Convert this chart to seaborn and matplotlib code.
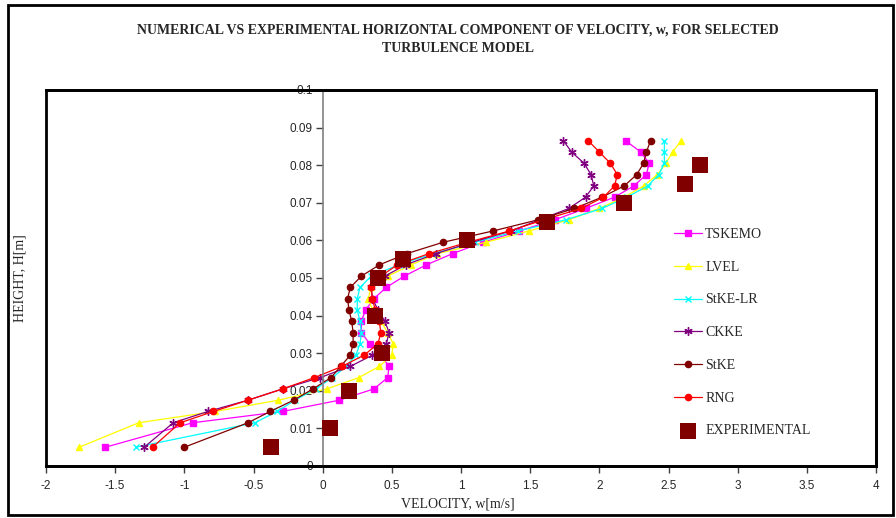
import matplotlib
matplotlib.use("Agg")
import matplotlib.pyplot as plt
import seaborn as sns
import numpy as np
from matplotlib.patches import Rectangle
from matplotlib.ticker import FixedLocator, FuncFormatter

# ---------------- data ----------------
HEIGHT = [0.005, 0.0115, 0.0145, 0.0175, 0.0205, 0.0235, 0.0265, 0.0295, 0.0325,
          0.0355, 0.0385, 0.0415, 0.0445, 0.0475, 0.0505, 0.0535, 0.0565, 0.0595,
          0.0625, 0.0655, 0.0685, 0.0715, 0.0745, 0.0775, 0.0805, 0.0835, 0.0865]

TSKEMO = [-1.57, -0.94, -0.29, 0.12, 0.37, 0.47, 0.48, 0.42, 0.34, 0.28, 0.28, 0.31, 0.37,
          0.46, 0.59, 0.75, 0.94, 1.16, 1.42, 1.68, 1.90, 2.11, 2.25, 2.34, 2.36, 2.30, 2.19]
LVEL = [-1.76, -1.33, -0.78, -0.32, 0.03, 0.26, 0.41, 0.50, 0.51, 0.47, 0.42, 0.36, 0.33,
        0.35, 0.47, 0.64, 0.83, 1.18, 1.49, 1.78, 2.00, 2.18, 2.32, 2.42, 2.48, 2.53, 2.59]
STKE_LR = [-1.35, -0.49, -0.33, -0.20, -0.05, 0.07, 0.17, 0.24, 0.27, 0.28, 0.27, 0.25, 0.25,
           0.27, 0.35, 0.55, 0.80, 1.10, 1.41, 1.76, 2.02, 2.20, 2.35, 2.43, 2.47, 2.47, 2.47]
CKKE = [-1.29, -1.08, -0.83, -0.54, -0.29, -0.02, 0.20, 0.36, 0.46, 0.48, 0.45, 0.40, 0.36,
        0.35, 0.45, 0.60, 0.82, 1.08, 1.36, 1.57, 1.78, 1.90, 1.96, 1.94, 1.89, 1.80, 1.74]
STKE = [-1.00, -0.54, -0.38, -0.21, -0.07, 0.06, 0.13, 0.20, 0.22, 0.22, 0.21, 0.19, 0.18,
        0.20, 0.28, 0.41, 0.61, 0.87, 1.23, 1.56, 1.82, 2.02, 2.18, 2.27, 2.32, 2.34, 2.37]
RNG = [-1.23, -1.03, -0.79, -0.54, -0.29, -0.06, 0.14, 0.30, 0.40, 0.42, 0.41, 0.38, 0.36,
       0.35, 0.42, 0.54, 0.77, 1.05, 1.35, 1.60, 1.87, 2.03, 2.11, 2.13, 2.08, 2.00, 1.92]

EXP_V = [-0.37, 0.05, 0.19, 0.43, 0.38, 0.40, 0.58, 1.04, 1.62, 2.18, 2.62, 2.73]
EXP_H = [0.005, 0.01, 0.02, 0.03, 0.04, 0.05, 0.055, 0.06, 0.065, 0.07, 0.075, 0.08]

SERIES_NAMES = ["TSKEMO", "LVEL", "StKE-LR", "CKKE", "StKE", "RNG"]
SERIES_VALUES = [TSKEMO, LVEL, STKE_LR, CKKE, STKE, RNG]
X_TICKS = [-2, -1.5, -1, -0.5, 0, 0.5, 1, 1.5, 2, 2.5, 3, 3.5, 4]
Y_TICKS = [0, 0.01, 0.02, 0.03, 0.04, 0.05, 0.06, 0.07, 0.08, 0.09, 0.1]

TITLE_1 = "NUMERICAL VS EXPERIMENTAL HORIZONTAL COMPONENT OF VELOCITY, w, FOR SELECTED"
TITLE_2 = "TURBULENCE MODEL"
X_LABEL = "VELOCITY, w[m/s]"
Y_LABEL = "HEIGHT, H[m]"

# ---------------- styles ----------------
STYLES = {
    "TSKEMO": dict(color="#FF00FF", marker="s", markersize=4.5),
    "LVEL": dict(color="#FFFF00", marker="^", markersize=5),
    "StKE-LR": dict(color="#00FFFF", marker="x", markersize=5),
    "CKKE": dict(color="#800080", marker=(6, 2, 0), markersize=6),
    "StKE": dict(color="#800000", marker="o", markersize=4.5),
    "RNG": dict(color="#FF0000", marker="o", markersize=4.5),
}
EXP_COLOR = "#800000"

sns.set_style("white")
plt.rcParams["font.family"] = ["Liberation Sans", "DejaVu Sans"]
plt.rcParams["axes.unicode_minus"] = False
SERIF = ["Liberation Serif", "DejaVu Serif"]

W, H = 896, 518
fig = plt.figure(figsize=(W / 100, H / 100), dpi=100)
fig.patch.set_facecolor("white")
ax = fig.add_axes([46 / W, 1 - 466 / H, (876 - 46) / W, (466 - 90) / H])
ax.set_facecolor("white")

for name, vals in zip(SERIES_NAMES, SERIES_VALUES):
    st = STYLES[name]
    sns.lineplot(x=vals, y=HEIGHT, sort=False, estimator=None, ax=ax,
                 color=st["color"], marker=st["marker"], markersize=st["markersize"],
                 markeredgecolor=st["color"], markerfacecolor=st["color"],
                 markeredgewidth=1.0, linewidth=0.9, label=name)

sns.scatterplot(x=EXP_V, y=EXP_H, marker="s", s=125, color=EXP_COLOR,
                edgecolor=EXP_COLOR, linewidth=0, ax=ax, label="EXPERIMENTAL", zorder=5)

ax.set_xlim(-2, 4)
ax.set_ylim(0, 0.1)
ax.xaxis.set_major_locator(FixedLocator(X_TICKS))
ax.yaxis.set_major_locator(FixedLocator(Y_TICKS))
fmt = FuncFormatter(lambda v, p: f"{v:g}")
ax.xaxis.set_major_formatter(fmt)
ax.yaxis.set_major_formatter(fmt)
ax.set_xlabel("")
ax.set_ylabel("")
ax.grid(False)

# spines: y axis crosses at 0 (grey), border black
ax.spines["left"].set_position(("data", 0))
ax.spines["left"].set_color("#808080")
ax.spines["left"].set_linewidth(1.2)
for s in ("top", "right", "bottom"):
    ax.spines[s].set_color("black")
    ax.spines[s].set_linewidth(2)
ax.add_patch(Rectangle((0, 0), 1, 1, transform=ax.transAxes, fill=False,
                       edgecolor="black", linewidth=2, clip_on=False, zorder=0.5))

ax.tick_params(axis="x", which="major", direction="out", length=5, width=1,
               color="#404040", labelsize=8.5, pad=5, bottom=True)
ax.tick_params(axis="y", which="major", direction="out", length=5, width=1,
               color="#404040", labelsize=8.5, pad=2, left=True)

leg = ax.legend(loc="upper left", bbox_to_anchor=(667 / W, 1 - 221 / H),
                bbox_transform=fig.transFigure, frameon=False, borderpad=0,
                handlelength=2.0, handletextpad=0.25, labelspacing=1.42,
                prop={"family": SERIF, "size": 10})

fig.text(458 / W, 1 - 30 / H, TITLE_1, ha="center", va="center",
         fontsize=10, fontweight="bold", family=SERIF)
fig.text(458 / W, 1 - 48 / H, TITLE_2, ha="center", va="center",
         fontsize=10, fontweight="bold", family=SERIF)
fig.text(458 / W, 1 - 504 / H, X_LABEL, ha="center", va="center",
         fontsize=10, family=SERIF)
fig.text(20 / W, 1 - 278 / H, Y_LABEL, ha="center", va="center",
         fontsize=10, family=SERIF, rotation=90)

fig.patches.append(Rectangle((8 / W, 1 - 515 / H), (893 - 8) / W, (515 - 5) / H,
                             transform=fig.transFigure, fill=False,
                             edgecolor="black", linewidth=2))

fig.savefig("out.png", dpi=100)
